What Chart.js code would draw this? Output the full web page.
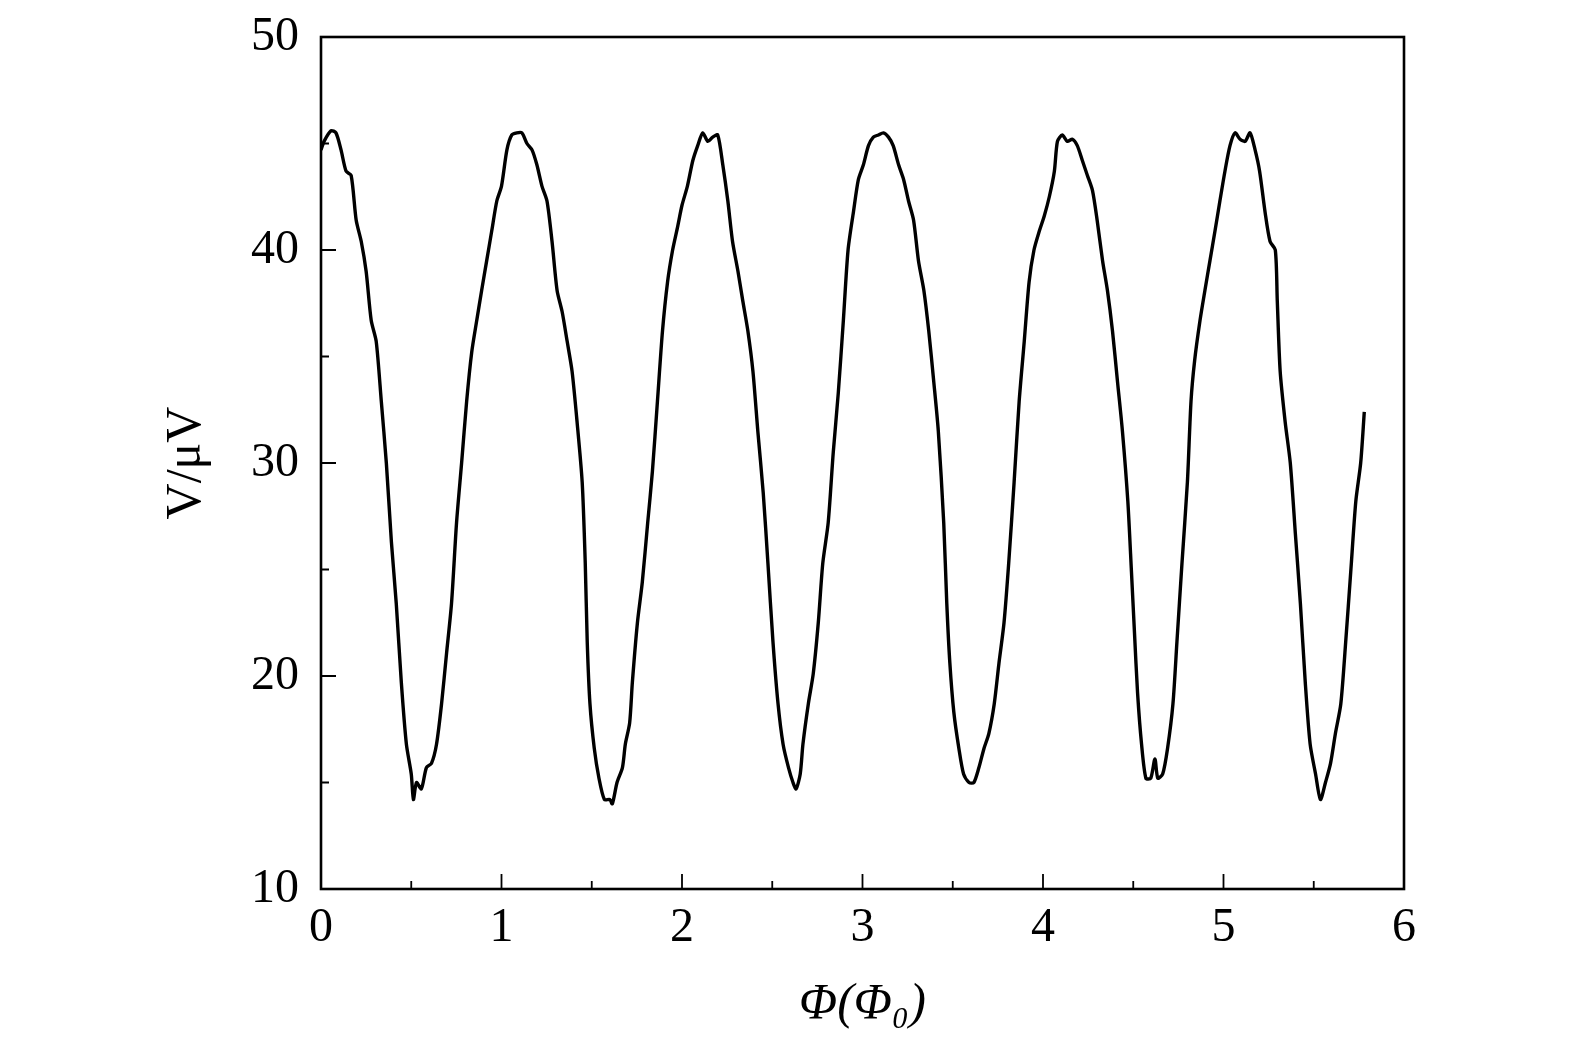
<!DOCTYPE html>
<html lang="zh">
<head>
    <meta charset="UTF-8">
    <title>V - Phi</title>
    <script src="https://cdn.jsdelivr.net/npm/chart.js@4/dist/chart.umd.min.js"></script>
    <style>
        body { margin: 0; background: #fff; }
        #grafico { display: block; }
    </style>
</head>
<body>
    <canvas id="grafico" width="1575" height="1053"></canvas>

<script>
    // dados
    const phi = [
        0, 0.017, 0.056, 0.083, 0.111, 0.139, 0.167, 0.195, 0.223, 0.25,
        0.278, 0.306, 0.334, 0.362, 0.39, 0.417, 0.445, 0.473, 0.5, 0.512,
        0.529, 0.556, 0.584, 0.612, 0.64, 0.668, 0.696, 0.723, 0.751, 0.779,
        0.807, 0.835, 0.863, 0.89, 0.918, 0.946, 0.974, 1.0, 1.03, 1.057,
        1.085, 1.113, 1.141, 1.169, 1.196, 1.224, 1.252, 1.28, 1.308, 1.336,
        1.364, 1.391, 1.419, 1.447, 1.464, 1.475, 1.49, 1.514, 1.54, 1.57,
        1.6, 1.614, 1.64, 1.67, 1.686, 1.71, 1.725, 1.753, 1.78, 1.81,
        1.836, 1.864, 1.892, 1.92, 1.948, 1.976, 2.0, 2.03, 2.06, 2.087,
        2.115, 2.143, 2.17, 2.198, 2.226, 2.254, 2.28, 2.31, 2.337, 2.365,
        2.393, 2.42, 2.45, 2.476, 2.504, 2.532, 2.56, 2.59, 2.615, 2.632,
        2.655, 2.67, 2.7, 2.727, 2.755, 2.78, 2.81, 2.838, 2.866, 2.894,
        2.92, 2.95, 2.977, 3.005, 3.033, 3.06, 3.088, 3.116, 3.144, 3.17,
        3.2, 3.228, 3.255, 3.283, 3.31, 3.34, 3.367, 3.395, 3.42, 3.45,
        3.467, 3.484, 3.506, 3.534, 3.56, 3.59, 3.617, 3.645, 3.673, 3.7,
        3.73, 3.756, 3.784, 3.81, 3.84, 3.868, 3.896, 3.923, 3.95, 3.98,
        4.007, 4.035, 4.063, 4.08, 4.107, 4.135, 4.163, 4.19, 4.218, 4.246,
        4.274, 4.3, 4.33, 4.357, 4.385, 4.413, 4.44, 4.47, 4.49, 4.507,
        4.524, 4.546, 4.57, 4.597, 4.62, 4.636, 4.663, 4.69, 4.72, 4.742,
        4.77, 4.8, 4.82, 4.84, 4.87, 4.897, 4.925, 4.953, 4.98, 5.008,
        5.036, 5.064, 5.092, 5.12, 5.147, 5.175, 5.2, 5.23, 5.258, 5.287,
        5.298, 5.314, 5.342, 5.37, 5.398, 5.426, 5.453, 5.48, 5.51, 5.537,
        5.565, 5.593, 5.62, 5.65, 5.677, 5.705, 5.733, 5.76, 5.78
    ];
    const tensao = [
        44.7, 45.1, 45.6, 45.5, 44.7, 43.7, 43.5, 41.4, 40.4, 39.0,
        36.7, 35.7, 32.9, 30.0, 26.3, 23.4, 19.7, 16.8, 15.4, 14.2,
        15.0, 14.7, 15.7, 15.9, 16.8, 18.7, 21.1, 23.4, 27.2, 30.0,
        32.9, 35.2, 36.7, 38.1, 39.5, 40.9, 42.3, 43.0, 44.7, 45.4,
        45.5, 45.5, 45.0, 44.7, 44.0, 43.0, 42.3, 40.4, 38.1, 37.1,
        35.7, 34.3, 31.9, 29.1, 25.3, 21.6, 18.7, 16.6, 15.2, 14.2,
        14.2, 14.0, 15.0, 15.7, 16.8, 17.8, 19.7, 22.5, 24.4, 27.2,
        29.6, 32.9, 36.2, 38.5, 40.0, 41.1, 42.1, 43.0, 44.2, 44.9,
        45.5, 45.1, 45.3, 45.4, 44.0, 42.3, 40.4, 39.0, 37.6, 36.2,
        34.3, 31.5, 28.6, 25.3, 21.6, 18.7, 16.8, 15.7, 15.0, 14.7,
        15.4, 16.8, 18.7, 20.1, 22.5, 25.3, 27.2, 30.5, 33.3, 36.7,
        40.0, 41.8, 43.3, 44.0, 44.9, 45.3, 45.4, 45.5, 45.3, 44.9,
        44.0, 43.3, 42.3, 41.4, 39.5, 38.1, 36.2, 33.8, 31.5, 27.2,
        23.4, 20.6, 18.3, 16.6, 15.4, 15.0, 15.0, 15.7, 16.6, 17.3,
        18.7, 20.6, 22.5, 25.3, 29.1, 32.9, 35.7, 38.5, 40.0, 40.9,
        41.6, 42.5, 43.7, 45.1, 45.4, 45.1, 45.2, 44.9, 44.2, 43.5,
        42.8, 41.4, 39.5, 38.1, 36.2, 33.8, 31.5, 28.2, 24.9, 22.0,
        19.2, 16.8, 15.2, 15.2, 16.1, 15.2, 15.4, 16.6, 18.7, 21.6,
        25.3, 29.1, 32.9, 34.8, 36.7, 38.1, 39.5, 40.9, 42.3, 43.7,
        44.9, 45.5, 45.2, 45.1, 45.5, 44.7, 43.7, 41.8, 40.4, 40.0,
        37.6, 34.3, 31.9, 30.0, 26.7, 23.4, 19.7, 16.8, 15.4, 14.2,
        15.0, 15.9, 17.3, 18.7, 21.6, 24.9, 28.2, 30.0, 32.4
    ];
    const ticksX = [0, 1, 2, 3, 4, 5, 6];
    const ticksY = [10, 20, 30, 40, 50];
    const minorX = [0.5, 1.5, 2.5, 3.5, 4.5, 5.5];
    const minorY = [15, 25, 35, 45];

    const fonte = "'Liberation Serif', 'DejaVu Serif', serif";

    // moldura + ticks para dentro
    const moldura = {
        id: 'moldura',
        afterDraw(chart) {
            const ctx = chart.ctx;
            const a = chart.chartArea;
            const sx = chart.scales.x, sy = chart.scales.y;
            ctx.save();
            ctx.strokeStyle = '#000';
            ctx.lineWidth = 1.8;
            ctx.beginPath();
            ticksX.forEach(v => { const p = sx.getPixelForValue(v); ctx.moveTo(p, a.bottom); ctx.lineTo(p, a.bottom - 15); });
            minorX.forEach(v => { const p = sx.getPixelForValue(v); ctx.moveTo(p, a.bottom); ctx.lineTo(p, a.bottom - 8); });
            ticksY.forEach(v => { const p = sy.getPixelForValue(v); ctx.moveTo(a.left, p); ctx.lineTo(a.left + 15, p); });
            minorY.forEach(v => { const p = sy.getPixelForValue(v); ctx.moveTo(a.left, p); ctx.lineTo(a.left + 8, p); });
            ctx.stroke();
            ctx.lineWidth = 2.6;
            ctx.strokeRect(a.left, a.top, a.right - a.left, a.bottom - a.top);
            ctx.restore();
        }
    };

    new Chart(document.getElementById('grafico'), {
        type: 'line',
        data: {
            datasets: [{
                data: phi.map((x, i) => ({ x: x, y: tensao[i] })),
                borderColor: '#000',
                borderWidth: 3.4,
                pointRadius: 0,
                tension: 0.25,
                fill: false
            }]
        },
        options: {
            responsive: false,
            animation: false,
            layout: { padding: { left: 0, right: 171, top: 37, bottom: 0 } },
            plugins: { legend: { display: false }, tooltip: { enabled: false } },
            scales: {
                x: {
                    type: 'linear',
                    min: 0,
                    max: 6,
                    afterBuildTicks: s => { s.ticks = ticksX.map(v => ({ value: v })); },
                    afterFit: s => { s.height = 164; s.paddingLeft = 0; s.paddingRight = 0; },
                    grid: { display: false, drawTicks: false },
                    border: { display: false },
                    ticks: { color: '#000', padding: 11, font: { family: fonte, size: 48 } },
                    title: {
                        display: true,
                        text: 'Φ(Φ₀)',
                        color: '#000',
                        padding: { top: 0, bottom: 18 },
                        font: { family: fonte, size: 50, style: 'italic' }
                    }
                },
                y: {
                    min: 10,
                    max: 50,
                    afterBuildTicks: s => { s.ticks = ticksY.map(v => ({ value: v })); },
                    afterFit: s => { s.width = 321; s.paddingTop = 0; s.paddingBottom = 0; },
                    grid: { display: false, drawTicks: false },
                    border: { display: false },
                    ticks: { color: '#000', padding: 22, font: { family: fonte, size: 48 } },
                    title: {
                        display: true,
                        text: 'V/μV',
                        color: '#000',
                        padding: { top: 157, bottom: 0 },
                        font: { family: fonte, size: 50 }
                    }
                }
            }
        },
        plugins: [moldura]
    });
</script>
</body>
</html>
